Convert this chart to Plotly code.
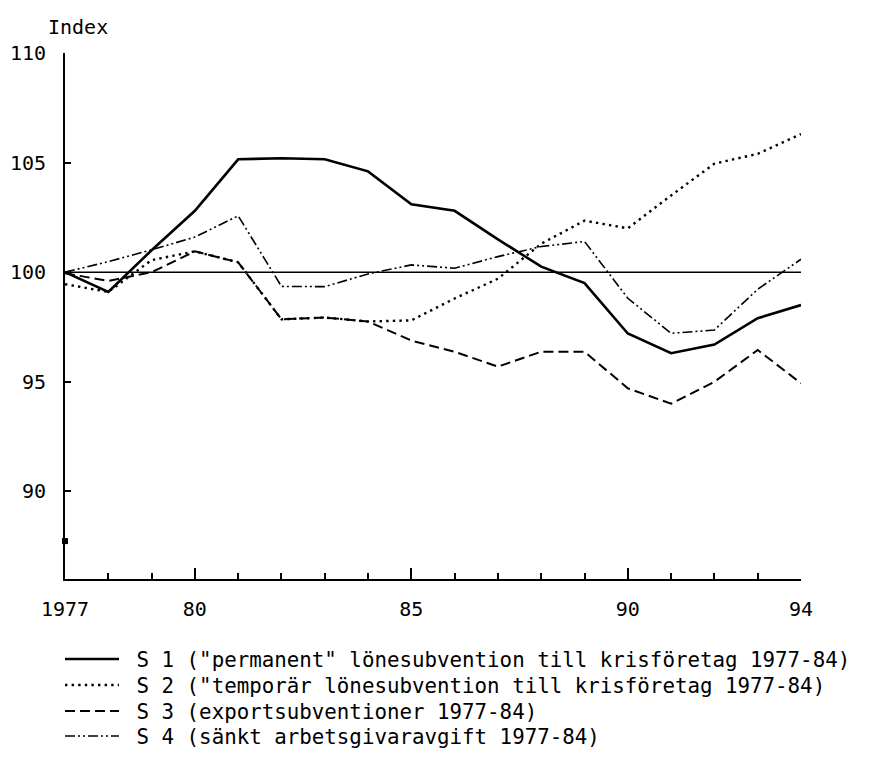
import plotly.graph_objects as go

years = list(range(1977, 1995))
s1 = [100.0, 99.1, 101.0, 102.8, 105.15, 105.2, 105.15, 104.6, 103.1, 102.8,
      101.5, 100.25, 99.5, 97.2, 96.3, 96.7, 97.9, 98.5]
s2 = [99.45, 99.1, 100.55, 100.95, 100.45, 97.85, 97.93, 97.75, 97.8, 98.8,
      99.7, 101.3, 102.35, 102.0, 103.5, 104.95, 105.4, 106.3]
s3 = [99.95, 99.6, 100.0, 100.95, 100.45, 97.85, 97.93, 97.75, 96.88, 96.37,
      95.69, 96.37, 96.37, 94.7, 94.0, 95.0, 96.45, 94.93]
s4 = [100.0, 100.48, 101.02, 101.6, 102.57, 99.35, 99.34, 99.92, 100.33, 100.18,
      100.71, 101.17, 101.4, 98.81, 97.21, 97.36, 99.22, 100.59]

names = [
    'S 1 ("permanent" lönesubvention till krisföretag 1977-84)',
    'S 2 ("temporär lönesubvention till krisföretag 1977-84)',
    'S 3 (exportsubventioner 1977-84)',
    'S 4 (sänkt arbetsgivaravgift 1977-84)',
]
base_x = [1977, 1994]
base_y = [100, 100]
mark_x = [1977]
mark_y = [87.73]

x_label_vals = [1977, 1980, 1985, 1990, 1994]
x_label_text = ["1977", "80", "85", "90", "94"]
x_major = [1980, 1985, 1990]
x_minor = list(range(1978, 1995))
y_ticks = [90, 95, 100, 105, 110]

FONT = "DejaVu Sans Mono"

# figure is drawn inside the page's 8px body margin
W, H = 861, 768
L, T, PW, PH = 57, 45, 736, 526
R, B = W - L - PW, H - T - PH
plot_bottom = T + PH

fig = go.Figure()
styles = [
    dict(width=2.6, dash="solid"),
    dict(width=2.4, dash="2.4px,4.2px"),
    dict(width=2.0, dash="10px,5px"),
    dict(width=1.6, dash="10px,3px,2px,3px,2px,3px"),
]
legend_ids = ["legend", "legend2", "legend3", "legend4"]
for name, ys, st, lg in zip(names, [s1, s2, s3, s4], styles, legend_ids):
    fig.add_trace(go.Scatter(x=years, y=ys, mode="lines", name="\u00a0" + name, legend=lg,
                             line=dict(color="black", width=st["width"], dash=st["dash"])))

fig.add_trace(go.Scatter(x=base_x, y=base_y, mode="lines", showlegend=False,
                         line=dict(color="black", width=1.5), xaxis="x2", yaxis="y2"))
fig.add_trace(go.Scatter(x=mark_x, y=mark_y, mode="markers", showlegend=False,
                         marker=dict(symbol="square", size=6, color="black"),
                         cliponaxis=False))

legend_centers = [658, 684, 710, 735]  # in page pixels
legend_layout = {}
for lg, c in zip(legend_ids, legend_centers):
    top = c - 8 - 19
    legend_layout[lg] = dict(x=(52 - L) / PW, y=(plot_bottom - top) / PH,
                             xanchor="left", yanchor="top",
                             font=dict(family=FONT, size=20.8), itemwidth=54,
                             bgcolor="rgba(0,0,0,0)", borderwidth=0)

fig.update_layout(
    width=W, height=H,
    margin=dict(l=L, r=R, t=T, b=B, autoexpand=False),
    paper_bgcolor="white", plot_bgcolor="white",
    font=dict(family=FONT, size=20, color="black"),
    xaxis=dict(range=[1977, 1994], showgrid=False, zeroline=False,
               showline=True, linecolor="black", linewidth=2,
               tickmode="array", tickvals=x_major, showticklabels=False,
               ticks="inside", ticklen=11, tickwidth=1.5, tickcolor="black",
               minor=dict(tickmode="array", tickvals=x_minor, ticks="inside",
                          ticklen=6, tickwidth=1.5, tickcolor="black")),
    yaxis=dict(range=[86, 110], showgrid=False, zeroline=False,
               showline=True, linecolor="black", linewidth=2,
               tickmode="array", tickvals=y_ticks, showticklabels=False,
               ticks="inside", ticklen=6, tickwidth=1.5, tickcolor="black"),
    xaxis2=dict(range=[1977, 1994], overlaying="x", anchor="y2", side="bottom",
                showgrid=False, zeroline=False, showline=False,
                tickmode="array", tickvals=x_label_vals, ticktext=x_label_text,
                ticks="outside", ticklen=12, tickcolor="rgba(0,0,0,0)"),
    yaxis2=dict(range=[86, 110], overlaying="y", anchor="x2", side="left",
                showgrid=False, zeroline=False, showline=False,
                tickmode="array", tickvals=y_ticks,
                ticks="outside", ticklen=14, tickcolor="rgba(0,0,0,0)"),
    annotations=[dict(text="Index", xref="paper", yref="paper",
                      x=(46 - 65) / PW, y=(579 - 27) / PH, xanchor="left", yanchor="middle",
                      showarrow=False, font=dict(family=FONT, size=20))],
    showlegend=True,
    **legend_layout,
)

fig.write_html("out.html")
